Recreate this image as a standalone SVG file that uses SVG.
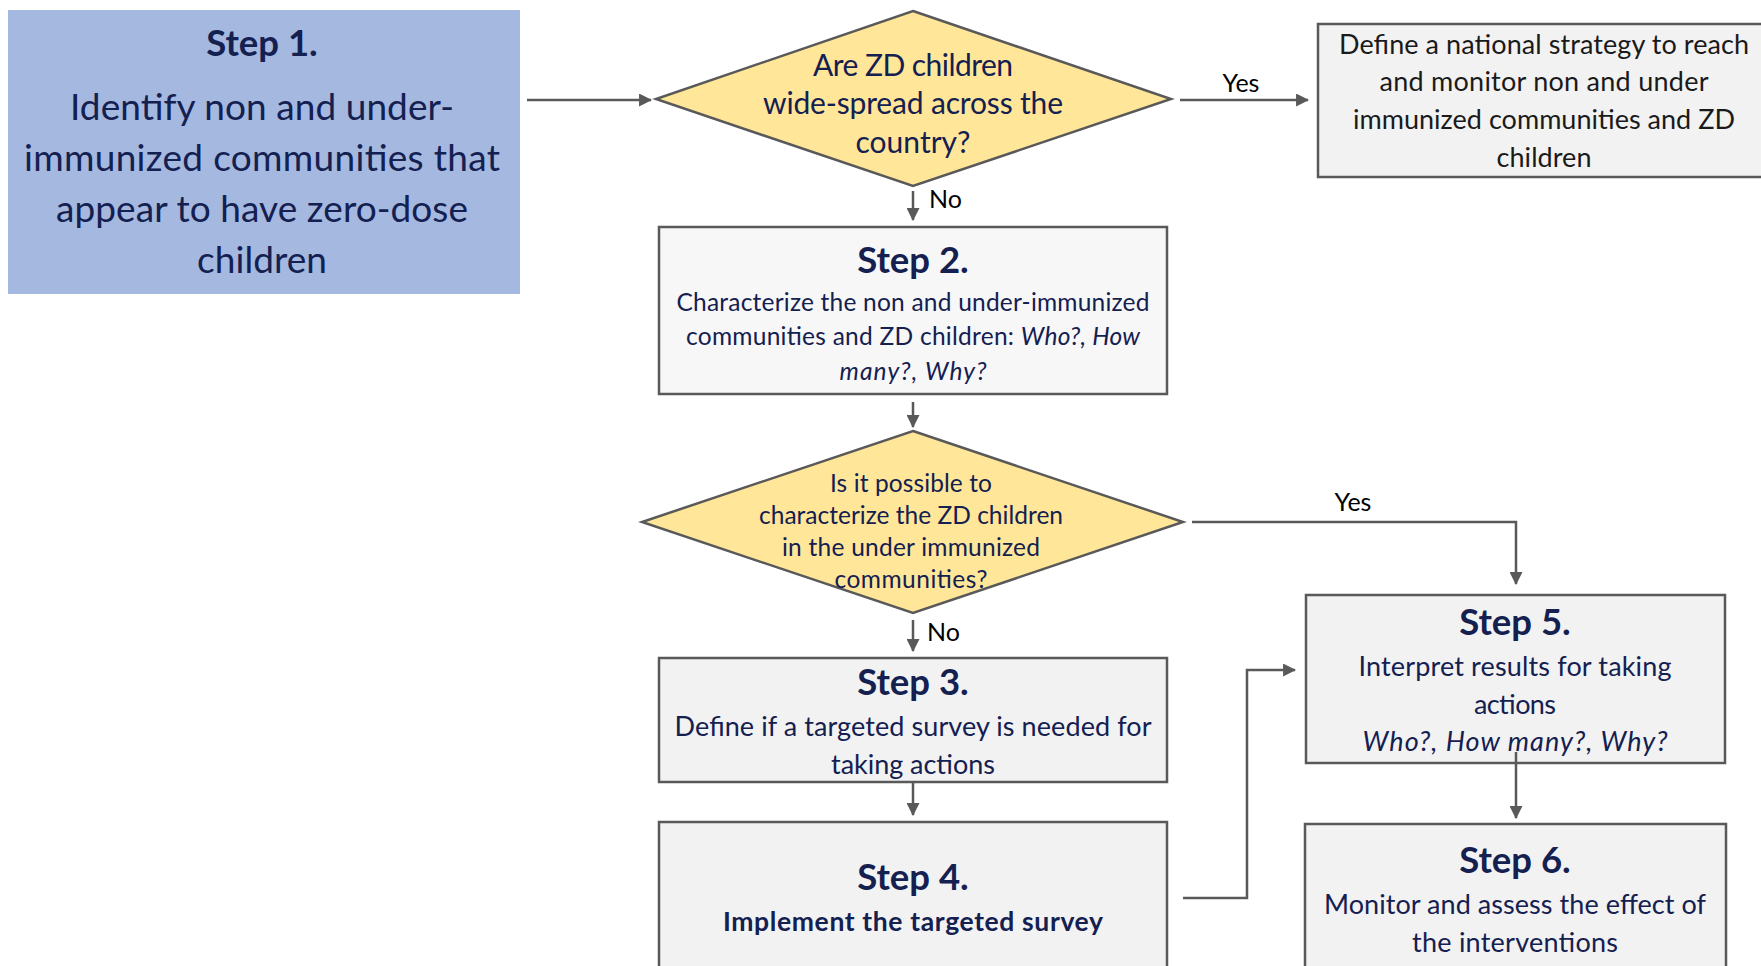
<svg xmlns="http://www.w3.org/2000/svg" width="1761" height="966" viewBox="0 0 1761 966">
<defs>
<marker id="ah" viewBox="0 0 12 12" refX="11" refY="6" markerWidth="13" markerHeight="13" markerUnits="userSpaceOnUse" orient="auto">
<path d="M0,0 L12,6 L0,12 Z" fill="#595959"/>
</marker>
<style>
.box{fill:#F2F2F2;stroke:#595959;stroke-width:2.5}
.dia{fill:#FFE699;stroke:#595959;stroke-width:2.5}
.t{font-family:Lato,"Liberation Sans",sans-serif;fill:#142050;text-anchor:middle}
.h{font-weight:bold;font-size:36.5px}
.lbl{font-family:Lato,"Liberation Sans",sans-serif;fill:#000;font-size:25px}
.c{fill:none;stroke:#595959;stroke-width:2.5;marker-end:url(#ah)}
</style>
</defs>
<rect width="1761" height="966" fill="#fff"/>
<g id="step1">
<rect x="8" y="10" width="512" height="284" fill="#A4B8E0"/>
<text class="t h" x="262" y="56">Step 1.</text>
<text class="t" font-size="37" x="262" y="120" textLength="384">Identify non and under-</text>
<text class="t" font-size="37" x="262" y="171" textLength="476">immunized communities that</text>
<text class="t" font-size="37" x="262" y="222" textLength="412">appear to have zero-dose</text>
<text class="t" font-size="37" x="262" y="273" textLength="130">children</text>
</g>
<g id="decision1">
<polygon class="dia" points="913,11 1171,99 913,186 656,99"/>
<text class="t" font-size="30" x="913" y="76" textLength="200">Are ZD children</text>
<text class="t" font-size="30" x="913" y="114" textLength="300">wide-spread across the</text>
<text class="t" font-size="30" x="913" y="153" textLength="115">country?</text>
</g>
<g id="national">
<rect class="box" x="1318" y="24" width="450" height="153"/>
<text class="t" style="fill:#1a1a1a" font-size="27" x="1544" y="54" textLength="410">Define a national strategy to reach</text>
<text class="t" style="fill:#1a1a1a" font-size="27" x="1544" y="91" textLength="329">and monitor non and under</text>
<text class="t" style="fill:#1a1a1a" font-size="27" x="1544" y="129" textLength="382">immunized communities and ZD</text>
<text class="t" style="fill:#1a1a1a" font-size="27" x="1544" y="167" textLength="95">children</text>
</g>
<g id="step2">
<rect class="box" x="659" y="227" width="508" height="167" style="fill:#F7F7F7"/>
<text class="t h" x="913" y="273">Step 2.</text>
<text class="t" font-size="24.5" x="913" y="311" textLength="473">Characterize the non and under-immunized</text>
<text class="t" font-size="24.5" x="913" y="345" textLength="454">communities and ZD children: <tspan font-style="italic">Who?, How</tspan></text>
<text class="t" font-size="24.5" x="913" y="380" font-style="italic" textLength="147">many?, Why?</text>
</g>
<g id="decision2">
<polygon class="dia" points="913,431 1183,522 913,613 642,522"/>
<text class="t" font-size="24.5" x="911" y="492" textLength="162">Is it possible to</text>
<text class="t" font-size="24.5" x="911" y="524" textLength="304">characterize the ZD children</text>
<text class="t" font-size="24.5" x="911" y="556" textLength="258">in the under immunized</text>
<text class="t" font-size="24.5" x="911" y="588" textLength="153">communities?</text>
</g>
<g id="step3">
<rect class="box" x="659" y="658" width="508" height="124"/>
<text class="t h" x="913" y="695">Step 3.</text>
<text class="t" font-size="27" x="913" y="736" textLength="477">Define if a targeted survey is needed for</text>
<text class="t" font-size="27" x="913" y="774" textLength="164">taking actions</text>
</g>
<g id="step4">
<rect class="box" x="659" y="822" width="508" height="160"/>
<text class="t h" x="913" y="890">Step 4.</text>
<text class="t" font-size="26.5" font-weight="bold" x="913" y="931" textLength="380">Implement the targeted survey</text>
</g>
<g id="step5">
<rect class="box" x="1306" y="595" width="419" height="168"/>
<text class="t h" x="1515" y="635">Step 5.</text>
<text class="t" font-size="27" x="1515" y="676" textLength="313">Interpret results for taking</text>
<text class="t" font-size="27" x="1515" y="714" textLength="82">actions</text>
<text class="t" font-size="27" x="1515" y="751" font-style="italic" textLength="305">Who?, How many?, Why?</text>
</g>
<g id="step6">
<rect class="box" x="1305" y="824" width="421" height="160"/>
<text class="t h" x="1515" y="873">Step 6.</text>
<text class="t" font-size="27" x="1515" y="914" textLength="382">Monitor and assess the effect of</text>
<text class="t" font-size="27" x="1515" y="952" textLength="206">the interventions</text>
</g>
<g id="connectors">
<path class="c" d="M527,100 H651"/>
<path class="c" d="M1180,100 H1308"/>
<path class="c" d="M913,191 V220"/>
<path class="c" d="M913,402 V427"/>
<path class="c" d="M1192,522 H1516 V584"/>
<path class="c" d="M913,620 V651"/>
<path class="c" d="M913,783 V815"/>
<path class="c" d="M1183,898 H1247 V670 H1295"/>
<path class="c" d="M1516,752 V818"/>
<text class="lbl" x="1241" y="92" text-anchor="middle">Yes</text>
<text class="lbl" x="929" y="208">No</text>
<text class="lbl" x="1353" y="511" text-anchor="middle">Yes</text>
<text class="lbl" x="927" y="641">No</text>
</g>
</svg>
